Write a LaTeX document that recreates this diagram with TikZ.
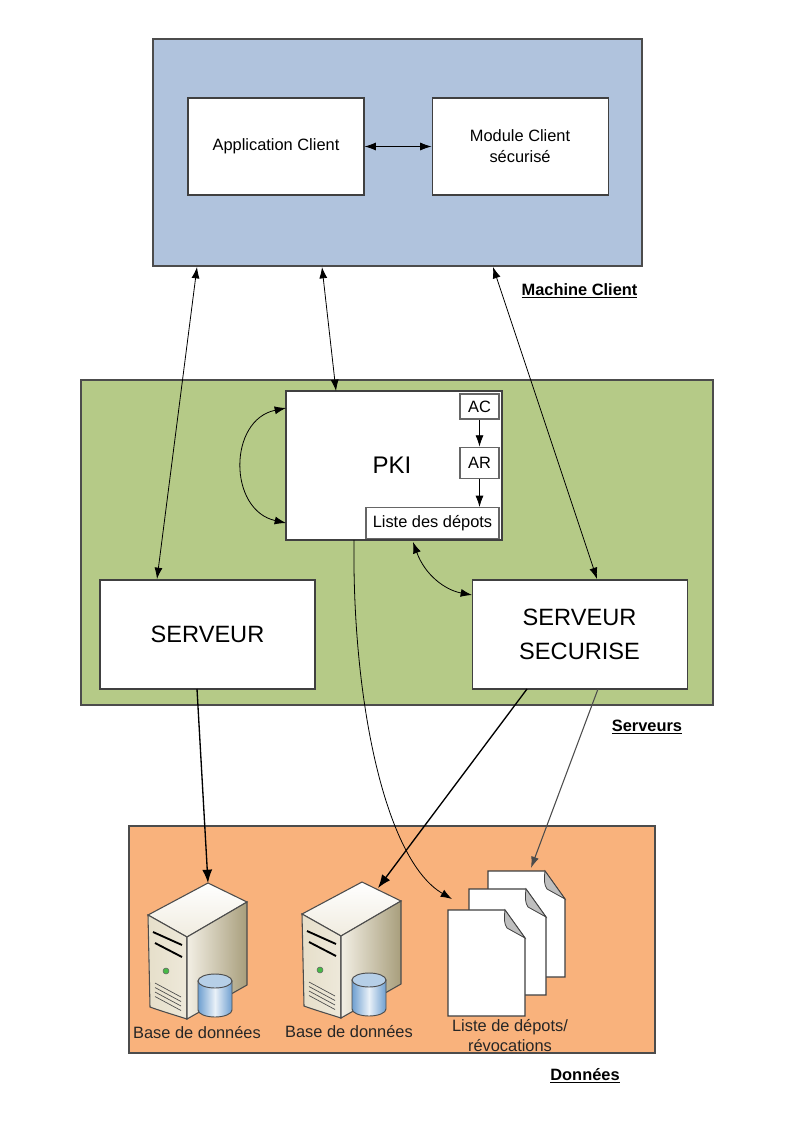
\documentclass[tikz,border=0pt]{standalone}
\usepackage{fontspec}
\setmainfont{Liberation Sans}
\usepackage{xcolor}
\definecolor{clientblue}{HTML}{B0C3DD}
\definecolor{servergreen}{HTML}{B5CA87}
\definecolor{dataorange}{HTML}{F9B27C}
\definecolor{towerbeige}{HTML}{E6DFCA}
\definecolor{towerdark}{HTML}{A89E7C}
\definecolor{dbblue}{HTML}{6E9FD0}
\usepackage{tikz}
\usetikzlibrary{arrows.meta,positioning}
\tikzset{
  >={Latex[length=8.5pt,width=6pt]},
  zone/.style={rectangle,draw=black!70,line width=.8pt,inner sep=0pt},
  box/.style={rectangle,draw=black!75,line width=.8pt,fill=white,inner sep=0pt,align=center},
  smallbox/.style={box,draw=black!60,line width=1pt},
  caption/.style={font=\fontsize{12.3}{16}\selectfont\bfseries},
  dblabel/.style={font=\fontsize{12.3}{15}\selectfont,align=center,text=black!85},
  edge/.style={<->,line width=.6pt},
  flow/.style={->,line width=.6pt},
  heavy/.style={->,line width=1pt,>={Latex[length=10pt,width=7.5pt]}},
  tower/.pic={
    \draw[black!70,line width=.8pt,top color=white,bottom color=towerbeige!60] (0,0) -- (39,19) -- (-21,54) -- (-60,32) -- cycle;
    \draw[black!70,line width=.8pt,left color=towerbeige,right color=towerbeige!70] (-60,32) -- (-21,54) -- (-21,136) .. controls (-40,130) and (-50,127) .. (-58,124) -- cycle;
    \draw[black!70,line width=.8pt,left color=white!50!towerbeige,right color=towerdark] (-21,54) -- (39,19) -- (39,102) -- (-21,136) -- cycle;
    % drive slots, led and vents
    \draw[black,line width=1.4pt] (-55,49) -- (-26,62) (-53,60) -- (-26,74);
    \draw[black!60,fill=green!45!gray] (-42,88) circle (3);
    \foreach \i in {0,1,2,3}
      \draw[black!70,line width=.5pt] (-53,100+4.5*\i) -- (-27,114+4.5*\i);
    % database
    \draw[black!70,line width=.7pt,left color=dbblue,right color=dbblue,middle color=dbblue!15] (-10,98) -- (-10,127) arc[start angle=180,end angle=0,x radius=17,y radius=7] -- (24,98) -- cycle;
    \draw[black!70,line width=.7pt,fill=dbblue!50] (7,98) ellipse (17 and 7);
  },
  sheet/.pic={
    \draw[black!75,line width=.8pt,fill=white] (0,0) -- (57,0) -- (77,28) -- (77,106) -- (0,106) -- cycle;
    \draw[black!75,line width=.6pt,fill=black!25] (57,0) .. controls (56,8) and (56,14) .. (59,18) -- (77,28) -- cycle;
  }
}

\begin{document}
\begin{tikzpicture}[x=.75pt,y=-.75pt,font=\fontsize{12.3}{15.75}\selectfont]
  \useasboundingbox (0,0) rectangle (794,1123);

  % Three zones
  \node[zone,fill=clientblue,minimum width=366.75pt,minimum height=170.25pt] (machine) at (397.5,152.5) {};
  \node[zone,fill=servergreen,minimum width=474pt,minimum height=243.75pt] (serveurs) at (397,542.5) {};
  \node[zone,fill=dataorange,minimum width=394.5pt,minimum height=170.25pt] (donnees) at (392,939.5) {};

  \node[caption] (machinelabel) at (579.5,291) {\underline{Machine Client}};
  \node[caption] (serveurslabel) at (647,727) {\underline{Serveurs}};
  \node[caption] (donneeslabel) at (585,1076) {\underline{Données}};

  % Client machine
  \node[box,minimum width=132pt,minimum height=72.75pt] (app) at (276,146.5) {Application Client};
  \node[box,minimum width=132pt,minimum height=72.75pt,right=50.25pt of app] (module) {Module Client\\sécurisé};

  % PKI
  \node[box,minimum width=162pt,minimum height=111.75pt,font=\fontsize{18}{22}\selectfont] (pki) at (394,465.5) {\hspace*{-3pt}PKI};
  \node[smallbox,minimum width=29.25pt,minimum height=18.75pt] (ac) at (479.5,406.5) {AC};
  \node[smallbox,minimum width=29.25pt,minimum height=23.25pt,below=20.25pt of ac] (ar) {AR};
  \node[smallbox,minimum width=99.75pt,minimum height=23.25pt,below left=21pt and 0pt of ar.south east] (liste) {Liste des dépots};

  % Servers
  \node[box,minimum width=161.25pt,minimum height=81.75pt,font=\fontsize{17.7}{25.5}\selectfont] (serveur) at (207.5,634.5) {SERVEUR};
  \node[box,minimum width=161.25pt,minimum height=81.75pt,font=\fontsize{17.7}{25.5}\selectfont,right=117pt of serveur] (securise) {SERVEUR\\SECURISE};

  % Data
  \coordinate (towera) at (208,883);
  \coordinate (towerb) at (362,882);
  \pic at (towera) {tower};
  \pic at (towerb) {tower};
  \pic at (488,871) {sheet};
  \pic at (469,889) {sheet};
  \pic at (448,910) {sheet};
  \node[dblabel] (basea) at (197,1033) {Base de données};
  \node[dblabel] (baseb) at (349,1032) {Base de données};
  \node[dblabel] (listelabel) at (510,1036) {Liste de dépots/\\révocations};

  % Connector ends
  \coordinate (ma) at (197,267);
  \coordinate (mb) at (322,267);
  \coordinate (mc) at (493,267);
  \coordinate (sa) at (157,579);
  \coordinate (pa) at (336,391);
  \coordinate (sc) at (597,579);
  \coordinate (loopa) at (286,408);
  \coordinate (loopb) at (286,523);
  \coordinate (lista) at (413,542);
  \coordinate (secl) at (472,595);
  \coordinate (pkib) at (354,540);
  \coordinate (sheeta) at (452,899);
  \coordinate (sheetb) at (531,868);
  \coordinate (sera) at (197,689);
  \coordinate (towertip) at (378,888);
  \coordinate (secb) at (527,689);
  \coordinate (secc) at (598,689);

  % Links
  \draw[edge] (app) -- (module);
  \draw[edge] (ma) -- (sa);
  \draw[edge] (mb) -- (pa);
  \draw[edge] (mc) -- (sc);
  \draw[edge] (loopa) .. controls (228,420) and (228,510) .. (loopb);
  \draw[edge] (lista) .. controls (425,575) and (445,590) .. (secl);
  \draw[flow] (ac) -- (ar);
  \draw[flow] (ar) -- (ar |- liste.north);
  \draw[flow] (pkib) .. controls (352,700) and (385,860) .. (sheeta);
  \draw[heavy] (sera) -- (towera);
  \draw[heavy] (secb) -- (towertip);
  \draw[flow,draw=black!70,line width=.8pt] (secc) -- (sheetb);
\end{tikzpicture}
\end{document}
